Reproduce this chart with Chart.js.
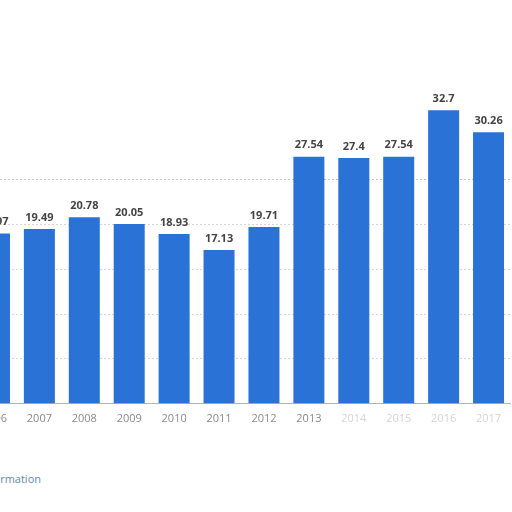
<!DOCTYPE html>
<html>
<head>
<meta charset="utf-8">
<script src="https://cdn.jsdelivr.net/npm/chart.js@4"></script>
<style>
  html, body { margin: 0; padding: 0; background: #fff; }
  body { width: 512px; height: 512px; overflow: hidden; position: relative; }
  #wrap { position: absolute; left: -28px; top: 0; width: 539px; height: 433px; }
  #note { position: absolute; right: calc(100% - 41px); top: 471px; white-space: nowrap;
          font: 11px "Open Sans", sans-serif; color: #5b8db3; }
</style>
</head>
<body>
<div id="wrap"><canvas id="bar-chart"></canvas></div>
<div id="note">Additional Information</div>
<script>
const years = ["2006", "2007", "2008", "2009", "2010", "2011", "2012", "2013", "2014", "2015", "2016", "2017"];
const values = [18.97, 19.49, 20.78, 20.05, 18.93, 17.13, 19.71, 27.54, 27.4, 27.54, 32.7, 30.26];

// labels above the bars
const valueLabels = {
    id: 'valueLabels',
    afterDatasetsDraw(chart) {
        const ctx = chart.ctx;
        const meta = chart.getDatasetMeta(0);
        ctx.save();
        ctx.font = 'bold 11px "Open Sans", sans-serif';
        ctx.fillStyle = '#444';
        ctx.textAlign = 'center';
        ctx.textBaseline = 'bottom';
        meta.data.forEach((bar, i) => {
            ctx.fillText(values[i], bar.x, bar.y - 6);
        });
        ctx.restore();
    }
};

new Chart(document.getElementById("bar-chart"), {
    type: 'bar',
    data: {
        labels: years,
        datasets: [{
            data: values,
            backgroundColor: '#2b72d6',
            barPercentage: 0.69,
            categoryPercentage: 1
        }]
    },
    options: {
        responsive: true,
        maintainAspectRatio: false,
        animation: false,
        layout: { padding: 0 },
        plugins: {
            legend: { display: false },
            tooltip: { enabled: false }
        },
        scales: {
            x: {
                grid: { display: false, drawTicks: false },
                border: { display: true, color: '#b4b4b4', width: 1 },
                ticks: {
                    padding: 8,
                    font: { family: 'Open Sans', size: 11 },
                    color: (c) => c.index >= 8 ? '#d4d4d4' : '#8a8a8a'
                }
            },
            y: {
                min: 0,
                max: 45,
                ticks: { display: false, stepSize: 5 },
                border: { display: false, dash: [2, 2] },
                grid: {
                    drawTicks: false,
                    color: (c) => c.tick.value === 25 ? '#c4c4c4' : (c.tick.value > 25 || c.tick.value === 0 ? 'rgba(0,0,0,0)' : '#d6d6d6'),
                    lineWidth: 1
                }
            }
        }
    },
    plugins: [valueLabels]
});
</script>
</body>
</html>
